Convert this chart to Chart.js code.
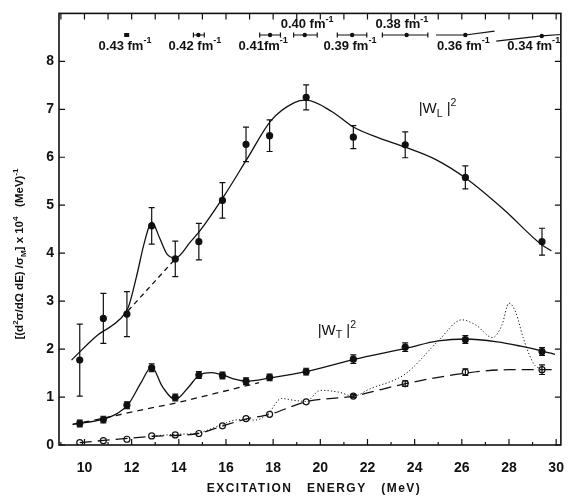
<!DOCTYPE html>
<html>
<head>
<meta charset="utf-8">
<script src="https://cdn.jsdelivr.net/npm/chart.js@4.4.1/dist/chart.umd.min.js"></script>
<style>
  html, body { margin: 0; padding: 0; background: #fff; }
  canvas { display: block; }
</style>
</head>
<body>
<canvas id="chart" width="579" height="503"></canvas>
<script>
// excitation energy (MeV) of the measured points
const energies = [9.8, 10.8, 11.8, 12.85, 13.85, 14.85, 15.85, 16.85, 17.85, 19.4, 21.4, 23.6, 26.15, 29.4];

// |W_L|^2 points and errors
const wL = [1.77, 2.64, 2.73, 4.57, 3.88, 4.24, 5.1, 6.27, 6.45, 7.25, 6.42, 6.26, 5.58, 4.24];
const wLErr = [0.75, 0.52, 0.47, 0.38, 0.37, 0.38, 0.37, 0.36, 0.33, 0.26, 0.24, 0.27, 0.24, 0.28];

// |W_T|^2 points and errors
const wT = [0.45, 0.53, 0.83, 1.61, 0.99, 1.46, 1.45, 1.33, 1.41, 1.53, 1.79, 2.04, 2.2, 1.95];
const wTErr = [0.07, 0.07, 0.07, 0.08, 0.07, 0.07, 0.07, 0.07, 0.07, 0.07, 0.09, 0.09, 0.08, 0.08];

// open circles
const open = [0.05, 0.09, 0.12, 0.19, 0.21, 0.24, 0.4, 0.55, 0.64, 0.9, 1.02, 1.28, 1.52, 1.57];
const openErr = [0, 0, 0, 0, 0, 0, 0, 0, 0, 0, 0.03, 0.06, 0.07, 0.1];

// solid curve through |W_L|^2
const curveLE = [9.45, 10.5, 11.45, 11.85, 12.2, 12.55, 12.85, 13.2, 13.5, 13.85, 14.5, 14.9, 15.9, 16.9, 17.9, 18.9, 19.4, 20.5, 21.4, 22.5, 23.6, 24.9, 26.2, 27.8, 29.4, 29.8];
const curveL = [1.77, 2.27, 2.6, 2.86, 3.5, 4.24, 4.65, 4.3, 3.98, 3.9, 4.24, 4.47, 5.18, 5.97, 6.76, 7.14, 7.19, 6.95, 6.63, 6.4, 6.21, 5.95, 5.55, 4.9, 4.17, 4.05];
// dashed background under the 13 MeV bump
const dashLE = [11.85, 13.85];
const dashL = [2.8, 3.88];

// solid curve through |W_T|^2
const curveTE = [9.5, 10.8, 11.4, 11.85, 12.4, 12.85, 13.3, 13.85, 14.4, 14.87, 15.4, 15.86, 16.4, 16.87, 17.88, 19.38, 21.39, 23.66, 25.0, 26.17, 27.5, 28.5, 29.42, 29.95];
const curveT = [0.43, 0.54, 0.66, 0.84, 1.3, 1.63, 1.22, 0.95, 1.2, 1.46, 1.51, 1.46, 1.37, 1.33, 1.4, 1.53, 1.78, 2.02, 2.17, 2.21, 2.15, 2.06, 1.96, 1.89];
const dashTE = [9.5, 11, 12.5, 13.9, 15.5, 17.4];
const dashT = [0.43, 0.58, 0.74, 0.88, 1.07, 1.3];

// long-dash curve through the open circles
const openCurveE = [9.8, 12.86, 14.83, 15.82, 16.83, 17.87, 19.38, 21.39, 23.62, 26.17, 28.0, 29.9];
const openCurve = [0.05, 0.18, 0.24, 0.39, 0.54, 0.64, 0.9, 1.02, 1.28, 1.5, 1.57, 1.57];

// dotted curve
const dotE = [12.9, 13.8, 14.8, 15.8, 16.4, 16.9, 17.25, 17.8, 18.35, 18.9, 19.4, 20.0, 20.8, 21.4, 22.1, 23.6, 25.0, 26.0, 26.6, 27.3, 27.7, 28.0, 28.3, 28.6, 29.1, 29.4];
const dot = [0.19, 0.22, 0.25, 0.42, 0.52, 0.53, 0.52, 0.66, 0.97, 0.93, 0.91, 1.14, 1.1, 1.02, 1.17, 1.48, 2.17, 2.61, 2.5, 2.24, 2.5, 2.96, 2.75, 2.24, 1.66, 1.6];

// resolution bars along the top
const resLabels = ['0.43 fm', '0.42 fm', '0.41fm', '0.40 fm', '0.39 fm', '0.38 fm', '0.36 fm', '0.34 fm'];
const resE = [11.79, 14.83, 17.87, 19.34, 21.35, 23.66, 26.15, 29.39];
const resLo = [11.72, 14.62, 17.43, 18.87, 20.72, 22.63, 24.9, 27.46];
const resHi = [11.86, 15.08, 18.31, 19.87, 21.97, 24.56, 27.39, 30.22];
const resY = [8.55, 8.55, 8.55, 8.55, 8.55, 8.55, 8.55, 8.53];
const resYLo = [8.55, 8.55, 8.55, 8.55, 8.55, 8.55, 8.55, 8.42];
const resYHi = [8.55, 8.55, 8.55, 8.55, 8.55, 8.55, 8.63, 8.56];
const resLabelE = [11.72, 14.68, 17.58, 19.44, 21.26, 23.46, 26.07, 29.05];
const resLabelY = [8.32, 8.32, 8.32, 8.76, 8.32, 8.76, 8.32, 8.32];

const xTicks = [10, 12, 14, 16, 18, 20, 22, 24, 26, 28, 30];
const yTicks = [0, 1, 2, 3, 4, 5, 6, 7, 8];

const INK = '#111';
const FONT = '"Liberation Sans", Arial, sans-serif';

const pts = (xs, ys) => xs.map((x, i) => ({ x: x, y: ys[i] }));

function curve(xs, ys, dash, width) {
  return {
    data: pts(xs, ys),
    showLine: true,
    borderColor: INK,
    borderWidth: width || 1.3,
    borderDash: dash || [],
    pointRadius: 0,
    cubicInterpolationMode: 'monotone',
    fill: false,
  };
}

function markers(ys, errs, filled) {
  return {
    data: pts(energies, ys),
    errors: errs,
    showLine: false,
    pointRadius: 3,
    pointBorderWidth: 1.2,
    pointBorderColor: INK,
    pointBackgroundColor: filled ? INK : '#fff',
  };
}

// draws text with superscript / subscript pieces, centred on x
function drawRich(c, parts, x, y, size, weight) {
  const w0 = weight || '';
  let total = 0;
  const widths = parts.map(([t, k]) => {
    c.font = w0 + ' ' + (k ? size * 0.7 : size) + 'px ' + FONT;
    const w = c.measureText(t).width;
    total += w;
    return w;
  });
  let cx = x - total / 2;
  parts.forEach(([t, k], i) => {
    c.font = w0 + ' ' + (k ? size * 0.7 : size) + 'px ' + FONT;
    const dy = k === 'sup' ? -size * 0.4 : k === 'sub' ? size * 0.3 : 0;
    c.fillText(t, cx, y + dy);
    cx += widths[i];
  });
}

const extras = {
  id: 'extras',
  afterDatasetsDraw(chart) {
    const c = chart.ctx;
    const xs = chart.scales.x;
    const ys = chart.scales.y;
    const a = chart.chartArea;
    c.save();
    c.strokeStyle = INK;
    c.fillStyle = INK;
    c.lineWidth = 1.2;

    // error bars
    chart.data.datasets.forEach((ds, di) => {
      if (!ds.errors) return;
      chart.getDatasetMeta(di).data.forEach((p, j) => {
        const e = ds.errors[j];
        if (!e) return;
        const v = ds.data[j].y;
        const top = ys.getPixelForValue(v + e);
        const bot = ys.getPixelForValue(v - e);
        c.beginPath();
        c.moveTo(p.x, top); c.lineTo(p.x, bot);
        c.moveTo(p.x - 3, top); c.lineTo(p.x + 3, top);
        c.moveTo(p.x - 3, bot); c.lineTo(p.x + 3, bot);
        c.stroke();
      });
    });

    // resolution bars
    resE.forEach((e, i) => {
      const px = xs.getPixelForValue(e);
      const py = ys.getPixelForValue(resY[i]);
      if (i === 0) {
        c.fillRect(px - 2.5, py - 2, 5, 4);
        return;
      }
      const x0 = xs.getPixelForValue(resLo[i]);
      const x1 = Math.min(xs.getPixelForValue(resHi[i]), a.right);
      const y0 = ys.getPixelForValue(resYLo[i]);
      const y1 = ys.getPixelForValue(resYHi[i]);
      c.beginPath();
      c.moveTo(x0, y0); c.lineTo(px, py); c.lineTo(x1, y1);
      if (i < 6) {
        c.moveTo(x0, py - 2.5); c.lineTo(x0, py + 2.5);
        c.moveTo(x1, py - 2.5); c.lineTo(x1, py + 2.5);
      }
      c.stroke();
      c.beginPath();
      c.arc(px, py, 2.2, 0, Math.PI * 2);
      c.fill();
    });
    c.textBaseline = 'middle';
    c.textAlign = 'left';
    resLabels.forEach((t, i) => {
      drawRich(c, [[t, ''], ['-1', 'sup']], xs.getPixelForValue(resLabelE[i]), ys.getPixelForValue(resLabelY[i]), 13, 'bold');
    });

    // curve labels
    drawRich(c, [['|W', ''], ['L', 'sub'], [' |', ''], ['2', 'sup']], xs.getPixelForValue(24.97), ys.getPixelForValue(7.0), 15);
    drawRich(c, [['|W', ''], ['T', 'sub'], [' |', ''], ['2', 'sup']], xs.getPixelForValue(20.7), ys.getPixelForValue(2.38), 15);

    // frame and inward ticks
    c.lineWidth = 1.6;
    c.strokeRect(a.left, a.top, a.right - a.left, a.bottom - a.top);
    c.lineWidth = 1.2;
    c.beginPath();
    for (let e = 9; e <= 30; e++) {
      const px = xs.getPixelForValue(e);
      c.moveTo(px, a.top); c.lineTo(px, a.top + 6);
      const len = e % 2 === 0 ? 6 : 3;
      c.moveTo(px, a.bottom); c.lineTo(px, a.bottom - len);
    }
    yTicks.forEach(v => {
      const py = ys.getPixelForValue(v);
      c.moveTo(a.left, py); c.lineTo(a.left + 6, py);
      c.moveTo(a.right, py); c.lineTo(a.right - 6, py);
    });
    c.stroke();

    // x axis title, letter-spaced like the original lettering
    c.letterSpacing = '1.5px';
    c.font = 'bold 12px ' + FONT;
    c.textAlign = 'center';
    c.fillText('EXCITATION   ENERGY   (MeV)', 314, 489);
    c.letterSpacing = '0px';
    c.textAlign = 'left';

    // y axis title
    c.translate(20, 254);
    c.rotate(-Math.PI / 2);
    drawRich(c, [['[(d', ''], ['2', 'sup'], ['σ/dΩ dE) /σ', ''], ['M', 'sub'], ['] x 10', ''], ['4', 'sup'], ['   (MeV)', ''], ['-1', 'sup']], 0, 0, 11.5, 'bold');
    c.restore();
  },
};

new Chart(document.getElementById('chart').getContext('2d'), {
  type: 'scatter',
  data: {
    datasets: [
      curve(curveLE, curveL),
      curve(dashLE, dashL, [5, 4]),
      curve(curveTE, curveT),
      curve(dashTE, dashT, [6, 5]),
      curve(openCurveE, openCurve, [12, 6]),
      curve(dotE, dot, [1.2, 2.2], 1),
      markers(wL, wLErr, true),
      markers(wT, wTErr, true),
      markers(open, openErr, false),
    ],
  },
  options: {
    responsive: false,
    animation: false,
    layout: { padding: { top: 10, right: 6, left: 0, bottom: 0 } },
    plugins: { legend: { display: false }, tooltip: { enabled: false } },
    scales: {
      x: {
        type: 'linear',
        min: 8.92,
        max: 30.2,
        grid: { display: false, drawTicks: false },
        border: { display: false },
        afterBuildTicks: s => { s.ticks = xTicks.map(v => ({ value: v })); },
        afterFit: s => { s.height = 58; },
        ticks: { color: INK, padding: 15, font: { family: FONT, size: 14, weight: 'bold' } },
      },
      y: {
        min: 0,
        max: 9,
        grid: { display: false, drawTicks: false },
        border: { display: false },
        afterBuildTicks: s => { s.ticks = yTicks.map(v => ({ value: v })); },
        afterFit: s => { s.width = 59; },
        ticks: { color: INK, padding: 5, font: { family: FONT, size: 14, weight: 'bold' } },
      },
    },
  },
  plugins: [extras],
});
</script>
</body>
</html>
